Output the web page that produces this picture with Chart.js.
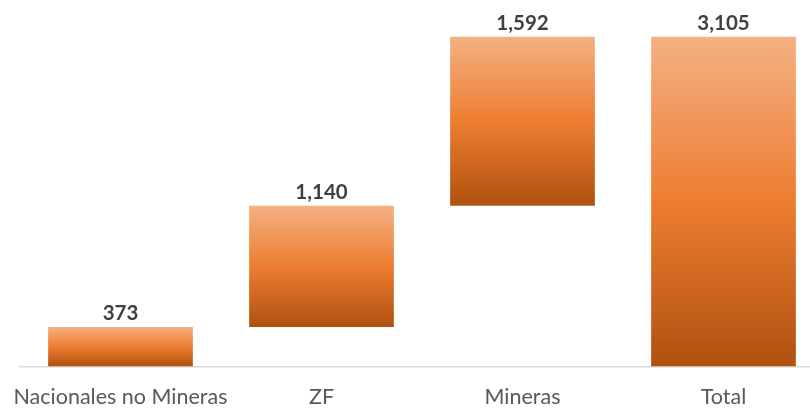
<!DOCTYPE html>
<html>
<head>
<meta charset="utf-8">
<script src="https://cdn.jsdelivr.net/npm/chart.js@4"></script>
<style>
  html, body { margin: 0; padding: 0; background: #ffffff; overflow: hidden; }
  #wrap { position: relative; width: 830px; height: 410px; }
</style>
</head>
<body>
<div id="wrap"><canvas id="c" width="830" height="410"></canvas></div>
<script>
const categories = ['Nacionales no Mineras', 'ZF', 'Mineras', 'Total'];
const values = [373, 1140, 1592, 3105];
const isTotal = [false, false, false, true];

// waterfall ranges built from values
const ranges = [];
let running = 0;
values.forEach((v, i) => {
  if (isTotal[i]) { ranges.push([0, v]); }
  else { ranges.push([running, running + v]); running += v; }
});

function barGradient(ctx) {
  const chart = ctx.chart;
  const y = chart.scales && chart.scales.y;
  if (!y || ctx.dataIndex === undefined) return '#ED7D31';
  const r = ranges[ctx.dataIndex];
  const top = y.getPixelForValue(r[1]);
  const bottom = y.getPixelForValue(r[0]);
  if (!isFinite(top) || !isFinite(bottom) || top === bottom) return '#ED7D31';
  const g = chart.ctx.createLinearGradient(0, top, 0, bottom);
  g.addColorStop(0, 'rgb(244,177,131)');
  g.addColorStop(0.5, 'rgb(237,125,49)');
  g.addColorStop(1, 'rgb(176,81,15)');
  return g;
}

const labelPlugin = {
  id: 'valueLabels',
  afterDatasetsDraw(chart) {
    const ctx = chart.ctx;
    const meta = chart.getDatasetMeta(0);
    ctx.save();
    ctx.font = 'bold 20.5px Lato';
    ctx.fillStyle = '#404040';
    ctx.textAlign = 'center';
    ctx.textBaseline = 'alphabetic';
    meta.data.forEach((bar, i) => {
      ctx.fillText(values[i].toLocaleString('en-US'), bar.x, bar.y - 7);
    });
    ctx.restore();
  }
};

new Chart(document.getElementById('c'), {
  type: 'bar',
  data: {
    labels: categories,
    datasets: [{
      data: ranges,
      backgroundColor: barGradient,
      borderWidth: 0,
      barPercentage: 0.72,
      categoryPercentage: 1.0
    }]
  },
  options: {
    responsive: false,
    animation: false,
    layout: { padding: { left: 20, right: 6, top: 0, bottom: 0 } },
    plugins: { legend: { display: false }, tooltip: { enabled: false } },
    scales: {
      x: {
        grid: { display: false, drawTicks: false },
        border: { display: true, color: '#D9D9D9', width: 1.5 },
        ticks: { color: '#595959', font: { family: 'Lato', size: 21.5 }, padding: 18, maxRotation: 0, autoSkip: false },
        afterFit(scale) {
          scale.height = 43.5;
          scale.paddingLeft = 0;
          scale.paddingRight = 0;
        }
      },
      y: {
        display: false,
        min: 0,
        max: 3450
      }
    }
  },
  plugins: [labelPlugin]
});
</script>
</body>
</html>
